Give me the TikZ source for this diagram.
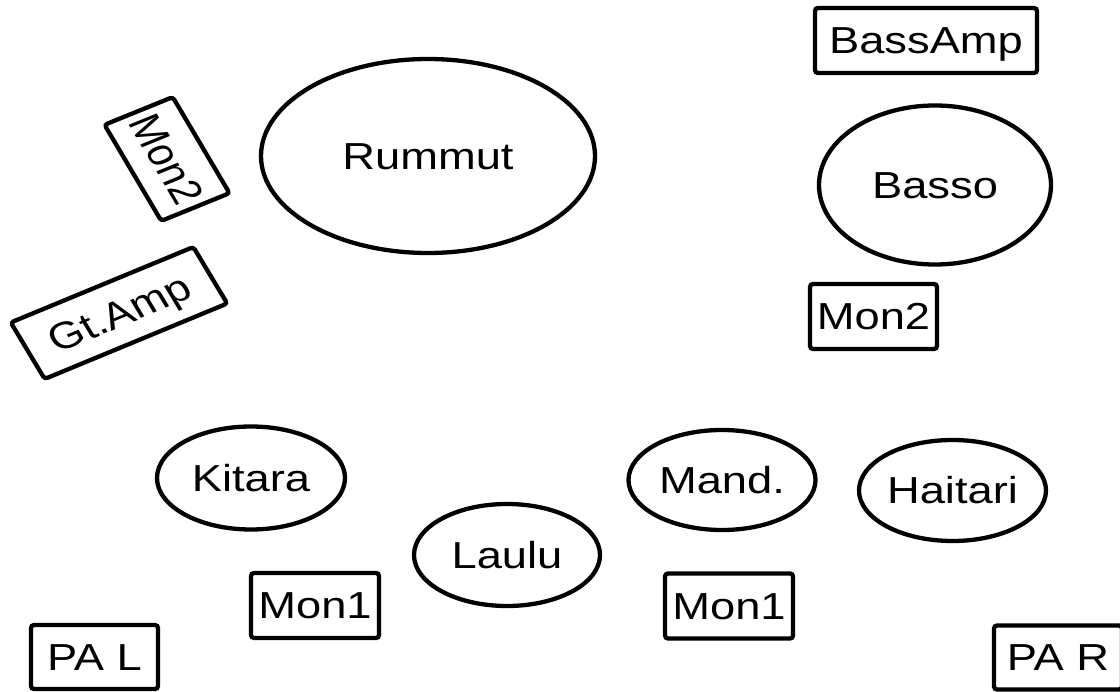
\documentclass[tikz,border=0pt]{standalone}
\usepackage{fontspec}
\setmainfont{Liberation Sans}
\usetikzlibrary{shapes.geometric}
\begin{document}
\begin{tikzpicture}[x=1pt,y=-1pt,
  lbl/.style={font=\fontsize{45.3pt}{50pt}\selectfont, text height=32.4pt, text depth=0pt, inner sep=0pt, line width=4.3pt, draw=black},
  sq/.style={lbl, yscale=0.83},
  boxn/.style={sq, rectangle, rounded corners=3pt},
  ell/.style={sq, ellipse}]
\useasboundingbox (0,0) rectangle (1120,692);
\fill[white] (0,0) rectangle (1120,692);
% ellipses
\node[ell, minimum width=334pt, minimum height={194pt/0.83}] (rummut) at (428,156) {Rummut};
\node[ell, minimum width=232pt, minimum height={159pt/0.83}] (basso) at (935,185) {Basso};
\node[ell, minimum width=188pt, minimum height={103pt/0.83}] (kitara) at (251,478) {Kitara};
\node[ell, minimum width=186pt, minimum height={102pt/0.83}] (laulu) at (507,555) {Laulu};
\node[ell, minimum width=187pt, minimum height={100pt/0.83}] (mand) at (722,480) {Mand.};
\node[ell, minimum width=187pt, minimum height={101pt/0.83}] (haitari) at (952.5,490.5) {Haitari};
% boxes
\node[boxn, minimum width=222pt, minimum height={65pt/0.83}] (bassamp) at (926,40.5) {BassAmp};
\node[boxn, minimum width=127pt, minimum height={65pt/0.83}] (mon2r) at (873.5,316.5) {Mon2};
\node[boxn, minimum width=128pt, minimum height={65pt/0.83}] (mon1l) at (315,605.5) {Mon1};
\node[boxn, minimum width=128pt, minimum height={65pt/0.83}] (mon1r) at (729,606) {Mon1};
\node[boxn, minimum width=127pt, minimum height={64pt/0.83}] (pal) at (94.5,657) {PA L};
\node[boxn, minimum width=128pt, minimum height={64pt/0.83}] (par) at (1058,657.5) {PA R};
% rotated boxes
\node[lbl, rectangle, rounded corners=3pt, cm={0.440,-0.745,0.898,0.365,(0,0)}, minimum width=129pt, minimum height=76pt] (mon2l) at (167,159) {Mon2};
\node[lbl, rectangle, rounded corners=3pt, cm={0.895,0.370,-0.446,0.743,(0,0)}, minimum width=204pt, minimum height=76pt] (gtamp) at (119,313) {Gt.Amp};
\end{tikzpicture}
\end{document}
